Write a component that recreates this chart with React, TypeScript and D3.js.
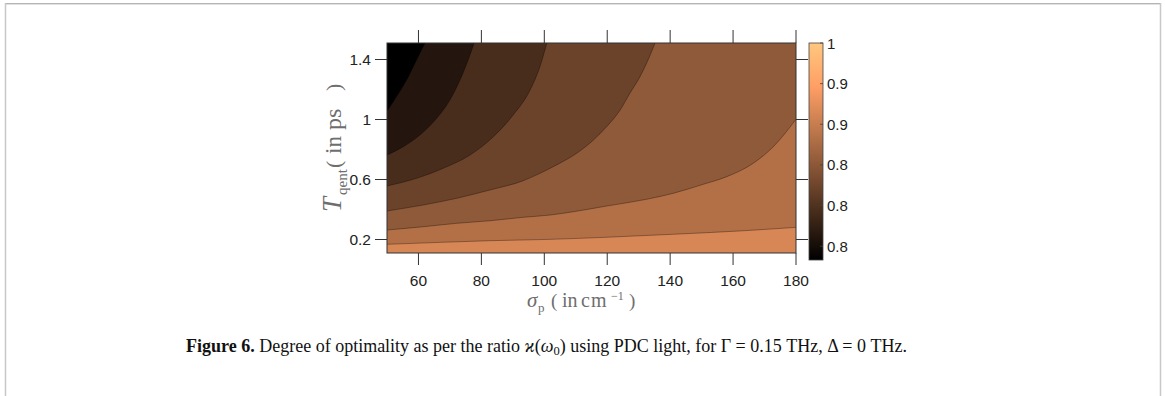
import React from "react";
import * as d3 from "d3";

// ---- axes ----
const sigmaDomain: [number, number] = [50, 180];
const tDomain: [number, number] = [0.11, 1.51];
const sigmaTicks = [60, 80, 100, 120, 140, 160, 180];
const tTicks = [0.2, 0.6, 1, 1.4];
const tTickLabels = ["0.2", "0.6", "1", "1.4"];

// ---- colour scale ----
const colorLimits: [number, number] = [0.733, 1.0];
const colorbarTicks = [0.75, 0.8, 0.85, 0.9, 0.95, 1];
const colorbarTickLabels = ["0.8", "0.8", "0.8", "0.9", "0.9", "1"];

// lower bound of each filled band, darkest first
const bandFloors = [0.733, 0.763, 0.793, 0.823, 0.853, 0.883, 0.913];

// iso-lines between neighbouring bands, as [sigma_p, T_qent] pairs,
// running from the left edge to where they leave the box
const iso0763: [number, number][] = [
  [50, 1.057], [52.0, 1.119], [54.7, 1.208], [56.8, 1.285], [58.9, 1.375], [60.7, 1.452], [62.1, 1.51],
];
const iso0793: [number, number][] = [
  [50, 0.763], [55.2, 0.819], [60.5, 0.897], [65.8, 1.008], [70.0, 1.13], [73.2, 1.263], [75.8, 1.397], [77.7, 1.51],
];
const iso0823: [number, number][] = [
  [50, 0.557], [59.4, 0.608], [67.9, 0.675], [76.4, 0.763], [83.8, 0.885], [90.1, 1.03], [95.5, 1.197], [98.6, 1.352], [100.8, 1.51],
];
const iso0853: [number, number][] = [
  [50, 0.39], [61.5, 0.43], [72.2, 0.475], [82.7, 0.53], [93.3, 0.592], [98.6, 0.641], [103.9, 0.697], [110.3, 0.775],
  [115.6, 0.863], [119.8, 0.952], [124.1, 1.063], [127.2, 1.175], [130.4, 1.285], [132.5, 1.375], [135.2, 1.51],
];
const iso0883: [number, number][] = [
  [50, 0.263], [61.5, 0.285], [72.2, 0.308], [82.7, 0.325], [93.3, 0.348], [101.8, 0.363], [109.2, 0.385], [119.8, 0.423],
  [132.5, 0.468], [141.0, 0.508], [150.5, 0.568], [158.0, 0.619], [166.4, 0.708], [172.8, 0.819], [180, 1.001],
];
const iso0913: [number, number][] = [
  [50, 0.168], [67.0, 0.181], [82.7, 0.192], [101.8, 0.201], [119.8, 0.215], [141.0, 0.235], [162.2, 0.257], [180, 0.281],
];
const isoLines = [iso0763, iso0793, iso0823, iso0853, iso0883, iso0913];

// MATLAB-style copper colormap
function copper(u: number): string {
  const t = Math.max(0, Math.min(1, u));
  const r = Math.min(1, 1.25 * t);
  const g = 0.7812 * t;
  const b = 0.4975 * t;
  return d3.rgb(r * 255, g * 255, b * 255).formatHex();
}

const W = 1165;
const H = 396;
const plot = { left: 387, right: 796, top: 43, bottom: 253 };
const bar = { left: 809, right: 823, top: 43, bottom: 260 };

export default function App() {
  const x = d3.scaleLinear().domain(sigmaDomain).range([plot.left, plot.right]);
  const y = d3.scaleLinear().domain(tDomain).range([plot.bottom, plot.top]);
  const cNorm = d3.scaleLinear().domain(colorLimits).range([0, 1]);
  const cbY = d3.scaleLinear().domain(colorLimits).range([bar.bottom, bar.top]);

  const isoPath = d3
    .line<[number, number]>()
    .x((d) => x(d[0]))
    .y((d) => y(d[1]))
    .curve(d3.curveMonotoneX);

  // region on the upper-left side of an iso-line, closed along the box edges
  const regionPath = (pts: [number, number][]) => {
    const last = pts[pts.length - 1];
    return (
      isoPath(pts) +
      `L${x(last[0])},${y(tDomain[1])}L${x(sigmaDomain[0])},${y(tDomain[1])}Z`
    );
  };

  const axisColor = "#333";
  const tickFont = "'Liberation Sans', Arial, Helvetica, sans-serif";
  const serif = "'Liberation Serif', 'Times New Roman', serif";
  const labelColor = "#6e6e6e";
  const tickLen = 12;

  const gradStops = [0, 0.2, 0.4, 0.6, 0.8, 0.9, 1];

  return (
    <div style={{ position: "absolute", left: 0, top: 0 }}>
      <svg width={W} height={H} viewBox={`0 0 ${W} ${H}`} style={{ display: "block", background: "#fff" }}>
        <defs>
          <clipPath id="plot-clip">
            <rect x={plot.left} y={plot.top} width={plot.right - plot.left} height={plot.bottom - plot.top} />
          </clipPath>
          <linearGradient id="copper-grad" x1="0" y1="1" x2="0" y2="0">
            {gradStops.map((s) => (
              <stop key={s} offset={s} stopColor={copper(s)} />
            ))}
          </linearGradient>
        </defs>

        {/* page frame */}
        <line x1={5} x2={1161} y1={3.5} y2={3.5} stroke="#b4b4b4" strokeWidth={1} />
        <line x1={5} x2={1161} y1={4.5} y2={4.5} stroke="#e2e2e2" strokeWidth={1} />
        <line x1={5.5} x2={5.5} y1={3} y2={H} stroke="#c8c8c8" strokeWidth={1.5} />
        <line x1={1160.5} x2={1160.5} y1={3} y2={H} stroke="#c8c8c8" strokeWidth={1.5} />

        {/* filled contour bands */}
        <g clipPath="url(#plot-clip)">
          <rect
            x={plot.left}
            y={plot.top}
            width={plot.right - plot.left}
            height={plot.bottom - plot.top}
            fill={copper(cNorm(bandFloors[bandFloors.length - 1]))}
          />
          {isoLines
            .map((pts, i) => ({ pts, i }))
            .reverse()
            .map(({ pts, i }) => (
              <path key={"r" + i} d={regionPath(pts)} fill={copper(cNorm(bandFloors[i]))} stroke="none" />
            ))}
          {isoLines.map((pts, i) => (
            <path key={"l" + i} d={isoPath(pts) || ""} fill="none" stroke="#000" strokeOpacity={0.55} strokeWidth={0.6} />
          ))}
        </g>

        {/* box */}
        <rect
          x={plot.left}
          y={plot.top}
          width={plot.right - plot.left}
          height={plot.bottom - plot.top}
          fill="none"
          stroke={axisColor}
          strokeWidth={1}
        />

        {/* x ticks, bottom and top */}
        {sigmaTicks.map((v) => (
          <g key={"x" + v}>
            <line x1={x(v)} x2={x(v)} y1={plot.bottom} y2={plot.bottom + tickLen} stroke={axisColor} />
            <line x1={x(v)} x2={x(v)} y1={plot.top} y2={plot.top - tickLen - 1} stroke={axisColor} />
            <text x={x(v)} y={286} textAnchor="middle" fontFamily={tickFont} fontSize={15.5} fill="#222">
              {v}
            </text>
          </g>
        ))}

        {/* y ticks, left and right */}
        {tTicks.map((v, i) => (
          <g key={"y" + v}>
            <line x1={plot.left - tickLen} x2={plot.left} y1={y(v)} y2={y(v)} stroke={axisColor} />
            <line x1={plot.right} x2={plot.right + tickLen} y1={y(v)} y2={y(v)} stroke={axisColor} />
            <text x={plot.left - tickLen - 4} y={y(v) + 5.5} textAnchor="end" fontFamily={tickFont} fontSize={15.5} fill="#222">
              {tTickLabels[i]}
            </text>
          </g>
        ))}

        {/* y label, reading bottom to top */}
        <g transform="translate(341,212) rotate(-90)" fontFamily={serif} fill={labelColor}>
          <text x={0} y={0} fontStyle="italic" fontSize={27}>T</text>
          <text x={17} y={6} fontSize={15}>qent</text>
          <text x={44} y={0} fontSize={22}>(</text>
          <text x={58} y={0} fontSize={23}>in</text>
          <text x={82} y={0} fontSize={24}>ps</text>
          <text x={121} y={0} fontSize={22}>)</text>
        </g>

        {/* x label */}
        <g fontFamily={serif} fill={labelColor}>
          <text x={527} y={307} fontStyle="italic" fontSize={21}>σ</text>
          <text x={538} y={312} fontSize={13}>p</text>
          <text x={551} y={307} fontSize={19}>(</text>
          <text x={562} y={307} fontSize={20}>in</text>
          <text x={581} y={307} fontSize={20} letterSpacing={1}>cm</text>
          <text x={611} y={300} fontSize={12}>−1</text>
          <text x={629} y={307} fontSize={19}>)</text>
        </g>

        {/* colorbar */}
        <rect
          x={bar.left}
          y={bar.top}
          width={bar.right - bar.left}
          height={bar.bottom - bar.top}
          fill="url(#copper-grad)"
          stroke="#444"
          strokeWidth={0.8}
        />
        {colorbarTicks.map((v, i) => (
          <g key={"c" + v}>
            <line x1={bar.right - 3} x2={bar.right} y1={cbY(v)} y2={cbY(v)} stroke="#444" strokeWidth={0.8} />
            <text x={bar.right + 4} y={cbY(v) + 5.5} fontFamily={tickFont} fontSize={15} fill="#222">
              {colorbarTickLabels[i]}
            </text>
          </g>
        ))}

        {/* caption */}
        <text x={186} y={351.5} fontFamily={serif} fontSize={18} fill="#111">
          <tspan fontWeight="bold">Figure 6.</tspan>
          <tspan> Degree of optimality as per the ratio </tspan>
          <tspan fontStyle="italic">ϰ</tspan>
          <tspan>(</tspan>
          <tspan fontStyle="italic">ω</tspan>
          <tspan fontSize={12.5} dy={3}>0</tspan>
          <tspan dy={-3}>) using PDC light, for Γ = 0.15 THz, Δ = 0 THz.</tspan>
        </text>
      </svg>
    </div>
  );
}
